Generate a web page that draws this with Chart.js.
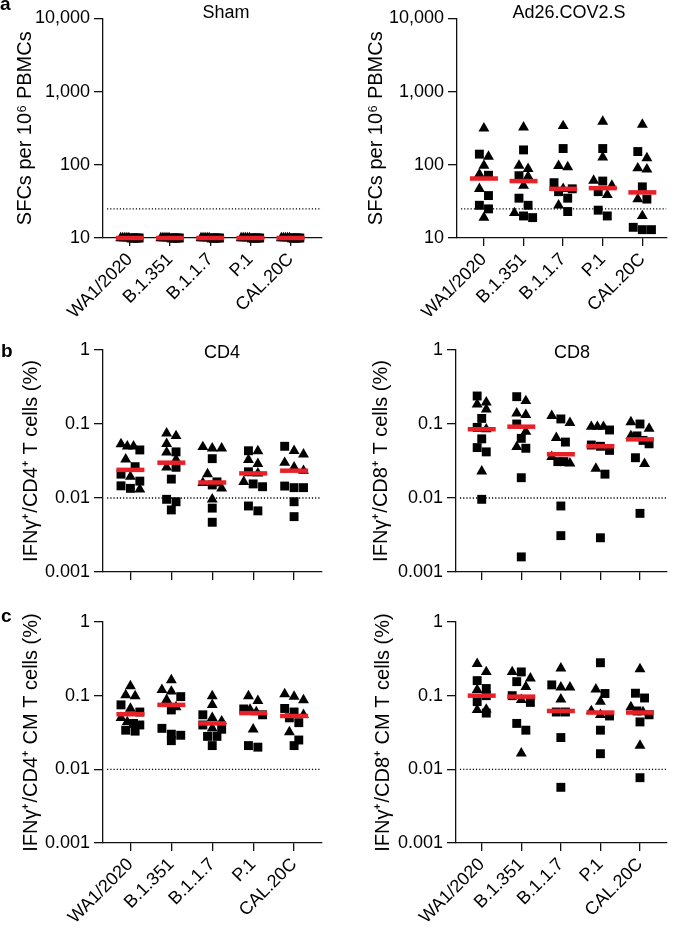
<!DOCTYPE html>
<html>
<head>
<meta charset="utf-8">
<script src="https://cdn.jsdelivr.net/npm/chart.js@4.4.1/dist/chart.umd.min.js"></script>
<style>
body { margin: 0; background: #fff; font-family: "Liberation Sans", Arial, sans-serif; }
#fig { position: relative; width: 685px; height: 929px; overflow: hidden; }
#fig canvas { position: absolute; }
.lbl { position: absolute; font-weight: bold; font-size: 19px; line-height: 19px; }
.ttl { position: absolute; font-size: 18px; line-height: 18px; transform: translateX(-50%); white-space: nowrap; }
</style>
</head>
<body>
<div id="fig">
  <canvas id="aSham" width="340" height="320" style="left:0;top:0"></canvas>
  <canvas id="aAd26" width="340" height="320" style="left:345px;top:0"></canvas>
  <canvas id="bCD4" width="340" height="320" style="left:0;top:330px"></canvas>
  <canvas id="bCD8" width="340" height="320" style="left:345px;top:330px"></canvas>
  <canvas id="cCD4" width="340" height="329" style="left:0;top:600px"></canvas>
  <canvas id="cCD8" width="340" height="329" style="left:345px;top:600px"></canvas>
  <div class="lbl" style="left:0;top:-6px">a</div>
  <div class="lbl" style="left:1px;top:341px">b</div>
  <div class="lbl" style="left:1px;top:606px">c</div>
  <div class="ttl" style="left:226px;top:3px">Sham</div>
  <div class="ttl" style="left:569px;top:3px">Ad26.COV2.S</div>
  <div class="ttl" style="left:222px;top:343px">CD4</div>
  <div class="ttl" style="left:572px;top:343px">CD8</div>
</div>
<script>
// variantes (eje x)
const categories = ['WA1/2020', 'B.1.351', 'B.1.1.7', 'P.1', 'CAL.20C'];

// a: SFCs por 10^6 PBMCs
const shamTri = [[10,10,10,10,10],[10,10,10,10,10],[10,10,10,10,10],[10,10,10,10,10],[10,10,10,10,10]];
const shamSq = [[10,10,10,10,10],[10,10,10,10,10],[10,10,10,10,10],[10,10,10,10,10],[10,10,10,10,10]];
const shamMedian = [10, 10, 10, 10, 10];

const adTri = [[316,130,98,74,47,19],[325,98,88,69,52,22],[340,97,93,47,28],[390,127,61,52,39],[355,124,90,87,34,20]];
const adSq = [[140,72,38,28,25],[160,71,35,28,20,19],[167,57,47,43,35,23],[167,60,43,24,20],[152,50,34,14,13,13]];
const adMedian = [65, 60, 47, 48, 42];

// b: IFNg+ T cells (%)
const cd4Tri = [[0.0535,0.050,0.050,0.0333,0.0194,0.0131],[0.075,0.069,0.054,0.0414,0.033,0.026],[0.049,0.047,0.047,0.021,0.016,0.0135,0.0096],[0.043,0.0327,0.029,0.0215,0.0165],[0.0433,0.039,0.030,0.026,0.0234]];
const cd4Sq = [[0.0446,0.0265,0.021,0.0169,0.0146,0.0135],[0.042,0.026,0.018,0.0096,0.0089,0.0069],[0.034,0.0165,0.015,0.0073,0.0047],[0.0435,0.0226,0.0155,0.0142,0.0078,0.0067],[0.050,0.0145,0.0138,0.0138,0.0089,0.0056]];
const cd4Median = [0.024, 0.030, 0.0162, 0.0215, 0.0234];

const cd8Tri = [[0.196,0.185,0.158,0.085,0.023],[0.205,0.139,0.133,0.079,0.049],[0.129,0.104,0.065,0.036,0.0294],[0.092,0.092,0.092,0.025],[0.106,0.087,0.069,0.029]];
const cd8Sq = [[0.239,0.119,0.09,0.063,0.048,0.042,0.0096],[0.234,0.10,0.064,0.047,0.0188,0.0016],[0.117,0.057,0.031,0.031,0.0078,0.0031],[0.083,0.052,0.05,0.044,0.021,0.0029],[0.10,0.069,0.06,0.054,0.035,0.0062]];
const cd8Median = [0.085, 0.092, 0.039, 0.050, 0.062];

// c: IFNg+ CM T cells (%)
const cmCd4Tri = [[0.135,0.102,0.099,0.067,0.05,0.044],[0.163,0.12,0.114,0.088,0.07],[0.099,0.075,0.05,0.045,0.036],[0.099,0.085,0.065,0.06,0.035],[0.105,0.097,0.087,0.055,0.032]];
const cmCd4Sq = [[0.075,0.06,0.042,0.040,0.034,0.033],[0.097,0.064,0.036,0.030,0.029,0.0245],[0.055,0.04,0.035,0.028,0.028,0.021],[0.066,0.055,0.021,0.020],[0.067,0.06,0.05,0.043,0.025,0.021]];
const cmCd4Median = [0.056, 0.075, 0.042, 0.058, 0.053];

const cmCd8Tri = [[0.27,0.21,0.12,0.065,0.064],[0.21,0.172,0.132,0.088,0.0165],[0.235,0.13,0.13,0.089],[0.122,0.083,0.062,0.055],[0.23,0.07,0.06,0.021]];
const cmCd8Sq = [[0.16,0.125,0.1,0.083,0.058],[0.21,0.155,0.1,0.081,0.042,0.034],[0.14,0.06,0.06,0.027,0.0057],[0.28,0.107,0.053,0.034,0.0163],[0.108,0.093,0.062,0.055,0.044,0.0077]];
const cmCd8Median = [0.1, 0.097, 0.062, 0.059, 0.059];

// ejes y y limites de deteccion
const sfcTicks = [10, 100, 1000, 10000];
const pctTicks = [0.001, 0.01, 0.1, 1];
const sfcLimit = 25;
const pctLimit = 0.01;

const red = 'rgb(232,32,40)';
const ink = '#111';

Chart.defaults.font.family = '"Liberation Sans", Arial, sans-serif';
Chart.defaults.font.size = 18;
Chart.defaults.color = '#000';

// reparte los puntos de cada grupo en filas como un grafico de dispersion
function swarm(tri, sq) {
    const out = { tri: [], sq: [] };
    categories.forEach((c, i) => {
        const pts = tri[i].map(v => ({ v, s: 'tri' })).concat(sq[i].map(v => ({ v, s: 'sq' })));
        pts.sort((a, b) => b.v - a.v);
        let row = [];
        const flush = () => {
            const n = row.length;
            const step = n > 1 ? Math.min(0.23, 0.46 / (n - 1)) : 0;
            row.forEach((p, k) => out[p.s].push({ x: i + (k - (n - 1) / 2) * step, y: p.v }));
            row = [];
        };
        pts.forEach(p => {
            if (row.length && Math.log10(row[0].v / p.v) > 0.11) flush();
            row.push(p);
        });
        flush();
    });
    return out;
}

function panel(id, tri, sq, median, cfg) {
    const pts = swarm(tri, sq);
    new Chart(document.getElementById(id), {
        type: 'scatter',
        data: {
            datasets: [
                { data: median.map((m, i) => ({ x: i, y: m })), pointStyle: 'line', pointRadius: 14,
                  pointBorderWidth: 4.5, pointBorderColor: red, pointBackgroundColor: red, order: 0, clip: false },
                { data: pts.tri, pointStyle: 'triangle', pointRadius: 6.3, pointBackgroundColor: '#000',
                  pointBorderWidth: 0, order: 1, clip: false },
                { data: pts.sq, pointStyle: 'rect', pointRadius: 6.3, pointBackgroundColor: '#000',
                  pointBorderWidth: 0, order: 1, clip: false },
                { data: [{ x: cfg.xMin + 0.1, y: cfg.limit }, { x: cfg.xMax, y: cfg.limit }], showLine: true,
                  borderColor: '#000', borderWidth: 1.3, borderDash: [1.2, 2], pointRadius: 0, order: 2 }
            ]
        },
        options: {
            responsive: false,
            animation: false,
            events: [],
            layout: { padding: { top: cfg.pt, right: cfg.pr, left: 0, bottom: 0 } },
            plugins: { legend: { display: false }, tooltip: { enabled: false } },
            scales: {
                x: {
                    type: 'linear', min: cfg.xMin, max: cfg.xMax, bounds: 'data',
                    afterBuildTicks: s => { s.ticks = categories.map((c, i) => ({ value: i })); },
                    afterFit: s => { s.height = cfg.xh; },
                    ticks: { minRotation: 45, maxRotation: 45, autoSkip: false, padding: 3,
                             callback: v => cfg.xLabels ? categories[v] : '' },
                    grid: { drawOnChartArea: false, tickLength: 8, color: ink, lineWidth: 1.3 },
                    border: { color: ink, width: 1.3 }
                },
                y: {
                    type: 'logarithmic', min: cfg.ticks[0], max: cfg.ticks[cfg.ticks.length - 1], bounds: 'data',
                    afterBuildTicks: s => { s.ticks = cfg.ticks.map(v => ({ value: v })); },
                    afterFit: s => { s.width = cfg.yw; },
                    ticks: { autoSkip: false, padding: 4, font: { lineHeight: 1 },
                             callback: v => cfg.ticks === sfcTicks ? v.toLocaleString('en-US') : String(v) },
                    grid: { drawOnChartArea: false, tickLength: 9, color: ink, lineWidth: 1.3 },
                    border: { color: ink, width: 1.3 },
                    title: { display: true, text: cfg.title, font: { size: 20, lineHeight: 1 },
                             padding: { top: cfg.titlePad, bottom: 0 } }
                }
            }
        }
    });
}

const sfcTitle = 'SFCs per 10\u2076 PBMCs';

panel('aSham', shamTri, shamSq, shamMedian, { ticks: sfcTicks, limit: sfcLimit, title: sfcTitle,
    xMin: -0.67, xMax: 4.77, xLabels: true, yw: 103, xh: 82, pt: 10, pr: 10, titlePad: 15 });
panel('aAd26', adTri, adSq, adMedian, { ticks: sfcTicks, limit: sfcLimit, title: sfcTitle,
    xMin: -0.68, xMax: 4.61, xLabels: true, yw: 112, xh: 82, pt: 10, pr: 2, titlePad: 21 });
panel('bCD4', cd4Tri, cd4Sq, cd4Median, { ticks: pctTicks, limit: pctLimit, title: 'IFN\u03b3\u207a/CD4\u207a T cells (%)',
    xMin: -0.67, xMax: 4.67, xLabels: false, yw: 103, xh: 78, pt: 20, pr: 15, titlePad: 21 });
panel('bCD8', cd8Tri, cd8Sq, cd8Median, { ticks: pctTicks, limit: pctLimit, title: 'IFN\u03b3\u207a/CD8\u207a T cells (%)',
    xMin: -0.65, xMax: 4.67, xLabels: false, yw: 111, xh: 78, pt: 20, pr: 8, titlePad: 26 });
panel('cCD4', cmCd4Tri, cmCd4Sq, cmCd4Median, { ticks: pctTicks, limit: pctLimit, title: 'IFN\u03b3\u207a/CD4\u207a CM T cells (%)',
    xMin: -0.67, xMax: 4.67, xLabels: true, yw: 103, xh: 86, pt: 22, pr: 15, titlePad: 21 });
panel('cCD8', cmCd8Tri, cmCd8Sq, cmCd8Median, { ticks: pctTicks, limit: pctLimit, title: 'IFN\u03b3\u207a/CD8\u207a CM T cells (%)',
    xMin: -0.65, xMax: 4.67, xLabels: true, yw: 111, xh: 86, pt: 22, pr: 8, titlePad: 28 });
</script>
</body>
</html>
